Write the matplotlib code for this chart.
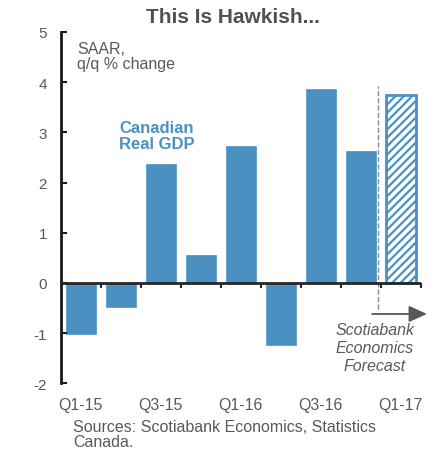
import numpy as np
import matplotlib
matplotlib.use('Agg')
import matplotlib.pyplot as plt

plt.rcParams['font.family'] = ['Liberation Sans', 'DejaVu Sans']
plt.rcParams['axes.unicode_minus'] = False
plt.rcParams['hatch.linewidth'] = 1.6

quarters = ['Q1-15', 'Q2-15', 'Q3-15', 'Q4-15', 'Q1-16', 'Q2-16', 'Q3-16', 'Q4-16', 'Q1-17']
gdp = [-1.02, -0.48, 2.37, 0.56, 2.72, -1.23, 3.86, 2.63, 3.75]
is_forecast = [False] * 8 + [True]
label_every = 2

blue = '#4A91C1'
grey = '#595959'

fig = plt.figure(figsize=(4.38, 4.52), dpi=100)
ax = fig.add_axes([0.139, 0.150, 0.822, 0.777])

x = np.arange(len(quarters))
for xi, v, fc in zip(x, gdp, is_forecast):
    if fc:
        ax.bar(xi, v, width=0.75, color='white', edgecolor=blue, hatch='////', linewidth=2)
    else:
        ax.bar(xi, v, width=0.75, color=blue, edgecolor='#5a9dc8', linewidth=0.6)

ax.set_xlim(-0.5, len(quarters) - 0.5)
ax.set_ylim(-2, 5)
ax.set_yticks(range(-2, 6))
ax.set_xticks(x[::label_every])
ax.set_xticklabels(quarters[::label_every])

for s in ['top', 'right', 'bottom']:
    ax.spines[s].set_visible(False)
ax.spines['left'].set_linewidth(2)
ax.spines['left'].set_color('#1a1a1a')
ax.tick_params(axis='y', direction='in', length=4, width=1.5, color='#1a1a1a',
               labelsize=11, labelcolor=grey, pad=10)
ax.tick_params(axis='x', length=0, labelsize=11.5, labelcolor=grey, pad=10)

# zero line with category separators
ax.axhline(0, color='#262626', linewidth=2, zorder=3)
ax.vlines(x[:-1] + 0.5, -0.1, 0, color='#262626', linewidth=1.5, zorder=3)
ax.vlines(x[-1] + 0.5, -0.1, 0, color='#262626', linewidth=1.5, zorder=3, clip_on=False)

# forecast marker
ax.plot([7.42, 7.42], [-0.52, 3.92], color='#8c8c8c', linestyle='--', linewidth=1, zorder=1)
ax.annotate('', xy=(8.65, -0.62), xytext=(7.28, -0.62),
            arrowprops=dict(arrowstyle='-|>,head_length=1.1,head_width=0.5',
                            color=grey, linewidth=1.3, shrinkA=0, shrinkB=0),
            annotation_clip=False)
ax.text(7.35, -1.29, 'Scotiabank\nEconomics\nForecast', ha='center', va='center',
        style='italic', fontsize=11.5, color=grey, linespacing=1.25)

ax.text(-0.1, 4.52, 'SAAR,\nq/q % change', ha='left', va='center', fontsize=11.5,
        color=grey, linespacing=1.05)
ax.text(1.9, 2.94, 'Canadian\nReal GDP', ha='center', va='center', fontsize=12,
        fontweight='bold', color=blue, linespacing=1.1)

fig.text(0.531, 0.962, 'This Is Hawkish...', ha='center', va='center', fontsize=15,
         fontweight='bold', color='#505050')
fig.text(0.167, 0.038, 'Sources: Scotiabank Economics, Statistics\nCanada.', ha='left',
         va='center', fontsize=11.5, color=grey, linespacing=0.95)

fig.savefig('out.png', dpi=100)
